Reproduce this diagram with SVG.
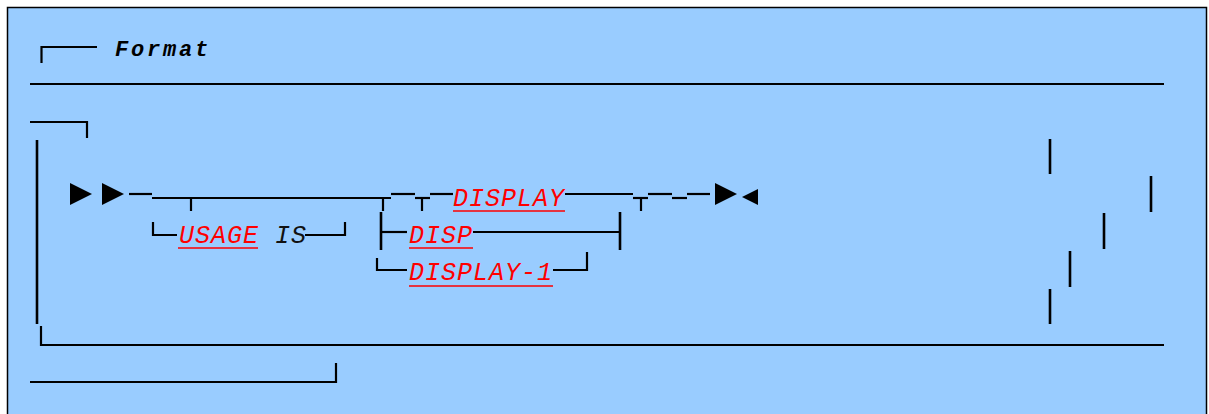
<svg xmlns="http://www.w3.org/2000/svg" width="1209" height="414" viewBox="0 0 1209 414">
<style>
.ln{stroke:#000;stroke-width:2.2;fill:none;stroke-linecap:butt}
.vl{stroke:#000;stroke-width:2.6;fill:none}
.ul{stroke:#FF0000;stroke-width:1.6}
.kw{font-family:"Liberation Mono","Courier New",monospace;font-style:italic;font-size:25px;letter-spacing:1px;fill:#FF0000}
.tx{font-family:"Liberation Mono","Courier New",monospace;font-style:italic;font-size:25px;letter-spacing:1px;fill:#111}
.hd{font-family:"Liberation Mono","Courier New",monospace;font-style:italic;font-weight:bold;font-size:22px;letter-spacing:2.8px;fill:#000}
.ar{fill:#000}
</style>
<rect x="7.5" y="7.5" width="1199" height="420" fill="#99CCFF" stroke="#000" stroke-width="1.5"/>
<g id="header">
<path class="ln" d="M41.5,63 V47 H97"/>
<text class="hd" x="115" y="56">Format</text>
</g>
<g id="frame">
<path class="ln" d="M30,84 H1164"/>
<path class="ln" d="M30,122 H87 V138"/>
<path class="vl" d="M37,140 V324"/>
<path class="ln" d="M41,326 V345 H1164"/>
<path class="ln" d="M30,382 H336 V363"/>
<path class="vl" d="M1050,139 V174"/>
<path class="vl" d="M1151,176 V212"/>
<path class="vl" d="M1104,213 V249"/>
<path class="vl" d="M1070,251 V287"/>
<path class="vl" d="M1050,289 V324"/>
</g>
<g id="start">
<polygon class="ar" points="70,183 92,194 70,205"/>
<polygon class="ar" points="102,183 124,194 102,205"/>
</g>
<g id="usage">
<text x="179" y="243"><tspan class="kw">USAGE</tspan><tspan class="tx" x="275">IS</tspan></text>
<line class="ul" x1="178" y1="248" x2="258" y2="248"/>
</g>
<g id="display">
<text class="kw" x="453" y="206">DISPLAY</text>
<line class="ul" x1="453" y1="211" x2="565" y2="211"/>
</g>
<g id="disp">
<text class="kw" x="409" y="243">DISP</text>
<line class="ul" x1="409" y1="248" x2="473" y2="248"/>
</g>
<g id="display-1">
<text class="kw" x="409" y="280">DISPLAY-1</text>
<line class="ul" x1="409" y1="286" x2="553" y2="286"/>
</g>
<g id="end">
<polygon class="ar" points="715,183 737,194 715,205"/>
<polygon class="ar" points="758,189 742,197 758,205"/>
</g>
<g id="connectors">
<path class="ln" d="M129,194 H152"/>
<path class="ln" d="M152,198 H391"/>
<path class="ln" d="M191,198 V211"/>
<path class="ln" d="M383,198 V211"/>
<path class="ln" d="M391,194 H415"/>
<path class="ln" d="M415,198 H430"/>
<path class="ln" d="M422,198 V211"/>
<path class="ln" d="M430,194 H453"/>
<path class="ln" d="M565,194 H633"/>
<path class="ln" d="M633,198 H648"/>
<path class="ln" d="M641,198 V211"/>
<path class="ln" d="M648,194 H672"/>
<path class="ln" d="M672,198 H687"/>
<path class="ln" d="M687,194 H710"/>
<path class="ln" d="M153,222 V235 H177"/>
<path class="ln" d="M305,235 H345 V222"/>
<path class="vl" d="M381,212 V250"/>
<path class="ln" d="M381,232 H407"/>
<path class="ln" d="M473,232 H620"/>
<path class="vl" d="M620,212 V250"/>
<path class="ln" d="M377,258 V270 H407"/>
<path class="ln" d="M553,270 H587 V252"/>
</g>
</svg>
